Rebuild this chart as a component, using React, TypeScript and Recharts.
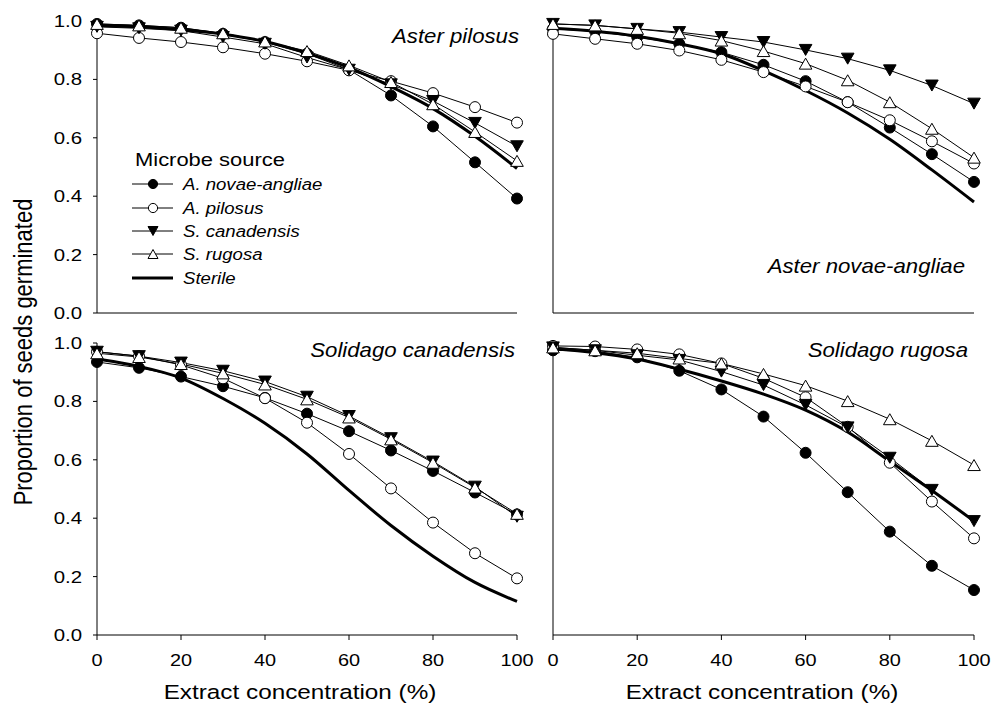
import React from 'react';
import { LineChart, Line, XAxis, YAxis, Legend } from 'recharts';

const FONT = '"Liberation Sans", Arial, Helvetica, sans-serif';

// extract concentration (%) for every point
const concentrations = [0, 10, 20, 30, 40, 50, 60, 70, 80, 90, 100];
const xTicks = [0, 20, 40, 60, 80, 100];
const yTicks = [0, 0.2, 0.4, 0.6, 0.8, 1];

const seriesNames = ['A. novae-angliae', 'A. pilosus', 'S. canadensis', 'S. rugosa', 'Sterile'];
const panelNames = ['Aster pilosus', 'Aster novae-angliae', 'Solidago canadensis', 'Solidago rugosa'];

// Aster pilosus
const apAnov = [0.99, 0.985, 0.977, 0.956, 0.928, 0.888, 0.833, 0.745, 0.639, 0.516, 0.392];
const apApil = [0.958, 0.942, 0.928, 0.91, 0.888, 0.862, 0.831, 0.794, 0.753, 0.705, 0.652];
const apScan = [0.98, 0.975, 0.967, 0.945, 0.922, 0.875, 0.833, 0.783, 0.726, 0.651, 0.571];
const apSrug = [0.99, 0.985, 0.977, 0.958, 0.93, 0.897, 0.848, 0.791, 0.715, 0.62, 0.521];
const apSterile = [0.985, 0.98, 0.97, 0.955, 0.93, 0.89, 0.84, 0.775, 0.7, 0.605, 0.495];

// Aster novae-angliae
const anAnov = [0.973, 0.965, 0.945, 0.922, 0.893, 0.85, 0.794, 0.722, 0.635, 0.544, 0.449];
const anApil = [0.956, 0.939, 0.922, 0.899, 0.867, 0.825, 0.776, 0.722, 0.66, 0.588, 0.512];
const anScan = [0.99, 0.985, 0.973, 0.962, 0.945, 0.928, 0.901, 0.871, 0.831, 0.779, 0.717];
const anSrug = [0.99, 0.985, 0.973, 0.958, 0.933, 0.897, 0.854, 0.797, 0.722, 0.631, 0.532];
const anSterile = [0.975, 0.965, 0.948, 0.922, 0.888, 0.83, 0.762, 0.685, 0.595, 0.49, 0.38];

// Solidago canadensis
const scAnov = [0.935, 0.915, 0.885, 0.852, 0.812, 0.758, 0.698, 0.632, 0.562, 0.488, 0.413];
const scApil = [0.97, 0.955, 0.925, 0.879, 0.811, 0.727, 0.62, 0.502, 0.385, 0.28, 0.194];
const scScan = [0.97, 0.955, 0.933, 0.905, 0.868, 0.816, 0.75, 0.674, 0.594, 0.508, 0.405];
const scSrug = [0.965, 0.952, 0.928, 0.896, 0.858, 0.807, 0.745, 0.67, 0.59, 0.505, 0.415];
const scSterile = [0.945, 0.92, 0.88, 0.81, 0.725, 0.62, 0.495, 0.375, 0.27, 0.18, 0.115];

// Solidago rugosa
const srAnov = [0.975, 0.972, 0.951, 0.905, 0.841, 0.748, 0.624, 0.489, 0.354, 0.237, 0.154];
const srApil = [0.99, 0.988, 0.978, 0.961, 0.93, 0.879, 0.814, 0.713, 0.59, 0.457, 0.331];
const srScan = [0.985, 0.975, 0.958, 0.942, 0.902, 0.856, 0.788, 0.711, 0.607, 0.497, 0.39];
const srSrug = [0.985, 0.975, 0.965, 0.947, 0.93, 0.894, 0.854, 0.801, 0.739, 0.665, 0.582];
const srSterile = [0.98, 0.967, 0.945, 0.91, 0.87, 0.825, 0.77, 0.695, 0.595, 0.495, 0.39];

function makeRows(an: number[], ap: number[], sc: number[], sr: number[], st: number[]) {
  return concentrations.map((conc, i) => ({ conc, an: an[i], ap: ap[i], sc: sc[i], sr: sr[i], st: st[i] }));
}

// text in the figure is stretched sideways a bit
function SText({ x, y, size, sx = 1.18, anchor = 'start', italic = false, rotate = false, children }: any) {
  return (
    <text
      transform={`translate(${x},${y}) scale(${sx},1)${rotate ? ' rotate(-90)' : ''}`}
      fontSize={size}
      textAnchor={anchor}
      fontStyle={italic ? 'italic' : 'normal'}
      fontFamily={FONT}
      fill="#000"
    >
      {children}
    </text>
  );
}

function triPath(cx: number, cy: number, down: boolean, w = 6.3, h = 11) {
  if (down) return `M${cx - w},${cy - h / 2}L${cx + w},${cy - h / 2}L${cx},${cy + h / 2}Z`;
  return `M${cx - w},${cy + h / 2}L${cx + w},${cy + h / 2}L${cx},${cy - h / 2}Z`;
}

const DownTri = (p: any) =>
  p.cx == null ? <g key={p.index} /> : <path key={p.index} d={triPath(p.cx, p.cy, true)} fill="#000" stroke="#000" strokeWidth={1} />;
const UpTri = (p: any) =>
  p.cx == null ? <g key={p.index} /> : <path key={p.index} d={triPath(p.cx, p.cy, false)} fill="#fff" stroke="#000" strokeWidth={1} />;

function LegendBox() {
  // local coords, box sits at page (125,140)
  const rows = [50, 74, 97, 120, 144];
  return (
    <svg width={230} height={150} style={{ overflow: 'visible' }}>
      <SText x={10} y={26} size={18.6} sx={1.18}>Microbe source</SText>
      {seriesNames.map((name, i) => {
        const cy = rows[i] - 6;
        return (
          <g key={name}>
            <line x1={7} x2={48} y1={cy} y2={cy} stroke="#000" strokeWidth={i === 4 ? 3 : 1} />
            {i === 0 && <circle cx={28} cy={cy} r={4.6} fill="#000" stroke="#000" />}
            {i === 1 && <circle cx={28} cy={cy} r={4.6} fill="#fff" stroke="#000" />}
            {i === 2 && <path d={triPath(28, cy, true, 5, 9)} fill="#000" stroke="#000" />}
            {i === 3 && <path d={triPath(28, cy, false, 5, 9)} fill="#fff" stroke="#000" />}
            <SText x={58} y={rows[i]} size={16.3} sx={1.14} italic>{name}</SText>
          </g>
        );
      })}
    </svg>
  );
}

const yTickLabel = (p: any) => (
  <SText x={p.x} y={p.y + 6} size={17} sx={1.2} anchor="end">{Number(p.payload.value).toFixed(1)}</SText>
);
const xTickLabel = (p: any) => (
  <SText x={p.x} y={p.y + 24} size={17} sx={1.17} anchor="middle">{p.payload.value}</SText>
);

function Panel({ rows, left, top, width, height, margin, yWidth, xHeight, yLabels, xLabels, legend }: any) {
  return (
    <div style={{ position: 'absolute', left, top, width, height }}>
      <LineChart width={width} height={height} data={rows} margin={margin}>
        <XAxis
          dataKey="conc"
          type="number"
          domain={[0, 100]}
          ticks={xTicks}
          height={xHeight}
          axisLine={{ stroke: '#000' }}
          tickLine={{ stroke: '#000' }}
          tickSize={5}
          tickMargin={2}
          tick={xLabels ? xTickLabel : false}
        />
        <YAxis
          type="number"
          domain={[0, 1]}
          ticks={yTicks}
          width={yWidth}
          axisLine={{ stroke: '#000' }}
          tickLine={{ stroke: '#000' }}
          tickSize={4}
          tickMargin={11}
          tick={yLabels ? yTickLabel : false}
        />
        <Line dataKey="st" type="monotone" stroke="#000" strokeWidth={3} dot={false} isAnimationActive={false} />
        <Line dataKey="an" type="linear" stroke="#000" strokeWidth={1} dot={{ r: 5.5, fill: '#000', stroke: '#000', strokeWidth: 1 }} isAnimationActive={false} />
        <Line dataKey="ap" type="linear" stroke="#000" strokeWidth={1} dot={{ r: 5.5, fill: '#fff', stroke: '#000', strokeWidth: 1 }} isAnimationActive={false} />
        <Line dataKey="sc" type="linear" stroke="#000" strokeWidth={1} dot={DownTri} isAnimationActive={false} />
        <Line dataKey="sr" type="linear" stroke="#000" strokeWidth={1} dot={UpTri} isAnimationActive={false} />
        {legend && (
          <Legend
            layout="horizontal"
            verticalAlign="middle"
            align="center"
            content={() => <LegendBox />}
            wrapperStyle={{ left: 125, top: 140, width: 230, height: 150 }}
          />
        )}
      </LineChart>
    </div>
  );
}

export default function App() {
  return (
    <div style={{ position: 'absolute', left: 0, top: 0, width: 991, height: 714, background: '#fff' }}>
      <Panel
        rows={makeRows(anAnov, anApil, anScan, anSrug, anSterile)}
        left={530} top={0} width={461} height={330}
        margin={{ top: 21, right: 17, bottom: 0, left: 0 }}
        yWidth={23} xHeight={17} yLabels={false} xLabels={false}
      />
      <Panel
        rows={makeRows(srAnov, srApil, srScan, srSrug, srSterile)}
        left={530} top={330} width={461} height={384}
        margin={{ top: 13, right: 17, bottom: 0, left: 0 }}
        yWidth={23} xHeight={79} yLabels={false} xLabels
      />
      <Panel
        rows={makeRows(apAnov, apApil, apScan, apSrug, apSterile)}
        left={0} top={0} width={545} height={330}
        margin={{ top: 21, right: 28, bottom: 0, left: 0 }}
        yWidth={97} xHeight={17} yLabels xLabels={false} legend
      />
      <Panel
        rows={makeRows(scAnov, scApil, scScan, scSrug, scSterile)}
        left={0} top={330} width={545} height={384}
        margin={{ top: 13, right: 28, bottom: 0, left: 0 }}
        yWidth={97} xHeight={79} yLabels xLabels
      />
      <svg width={991} height={714} style={{ position: 'absolute', left: 0, top: 0, pointerEvents: 'none' }}>
        <SText x={519} y={43} size={20} sx={1.11} anchor="end" italic>{panelNames[0]}</SText>
        <SText x={965} y={273} size={20} sx={1.11} anchor="end" italic>{panelNames[1]}</SText>
        <SText x={515} y={357} size={20} sx={1.11} anchor="end" italic>{panelNames[2]}</SText>
        <SText x={968} y={357} size={20} sx={1.11} anchor="end" italic>{panelNames[3]}</SText>
        <SText x={32} y={352} size={22} sx={1.2} anchor="middle" rotate>Proportion of seeds germinated</SText>
        <SText x={300} y={699} size={20.5} sx={1.186} anchor="middle">Extract concentration (%)</SText>
        <SText x={762} y={699} size={20.5} sx={1.186} anchor="middle">Extract concentration (%)</SText>
      </svg>
    </div>
  );
}
